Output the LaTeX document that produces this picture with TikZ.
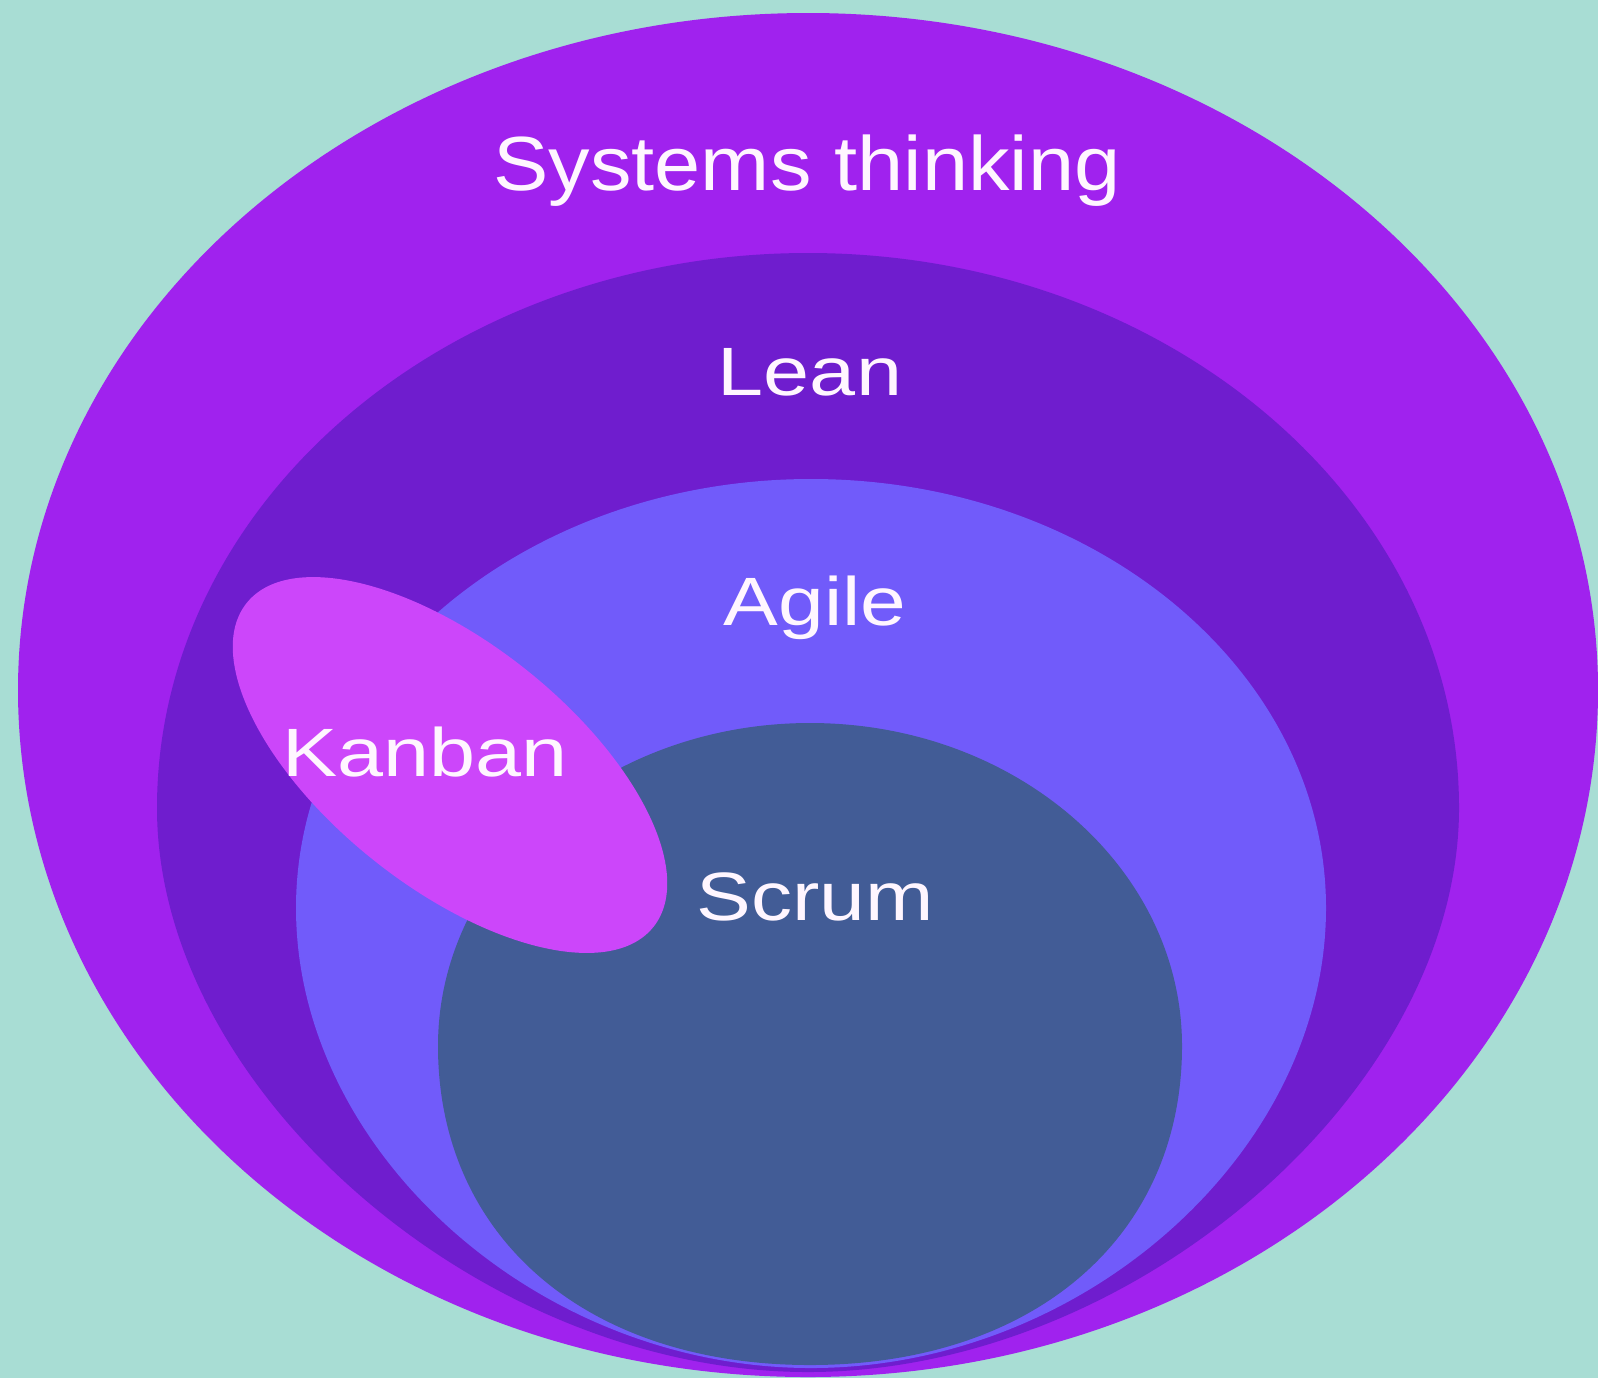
\documentclass[tikz,border=0pt]{standalone}
\usepackage{fontspec}
\setmainfont{Liberation Sans}
\definecolor{bgcol}{RGB}{168,221,212}
\definecolor{outercol}{RGB}{160,34,238}
\definecolor{leancol}{RGB}{111,29,206}
\definecolor{agilecol}{RGB}{113,91,250}
\definecolor{scrumcol}{RGB}{66,92,150}
\definecolor{kanbancol}{RGB}{204,70,250}
\definecolor{txtcol}{RGB}{255,246,255}
% #1 cx, #2 top y, #3 mid y, #4 bottom y, #5 half width, #6 k top, #7 k bottom, #8 style
\newcommand{\eggfill}[8]{%
  \pgfmathsetmacro\eggL{#1-#5}%
  \pgfmathsetmacro\eggR{#1+#5}%
  \pgfmathsetmacro\eggTa{#1-#6*#5}%
  \pgfmathsetmacro\eggTb{#1+#6*#5}%
  \pgfmathsetmacro\eggBa{#1-#7*#5}%
  \pgfmathsetmacro\eggBb{#1+#7*#5}%
  \pgfmathsetmacro\eggMu{#3-#6*(#3-#2)}%
  \pgfmathsetmacro\eggMd{#3+#7*(#4-#3)}%
  \fill[#8] (#1,#2) .. controls (\eggTa,#2) and (\eggL,\eggMu) .. (\eggL,#3)
    .. controls (\eggL,\eggMd) and (\eggBa,#4) .. (#1,#4)
    .. controls (\eggBb,#4) and (\eggR,\eggMd) .. (\eggR,#3)
    .. controls (\eggR,\eggMu) and (\eggTb,#2) .. (#1,#2) -- cycle;
}
\tikzset{
  lbl/.style={text=txtcol, inner sep=0pt, anchor=base},
  bigfont/.style={font=\fontsize{38.4}{44}\selectfont},
  midfont/.style={font=\fontsize{34.2}{40}\selectfont}
}
\begin{document}
\begin{tikzpicture}[x=0.5pt,y=-0.5pt]
\useasboundingbox (0,0) rectangle (1598,1378);
\fill[bgcol] (0,0) rectangle (1598,1378);
% nested egg shapes
\eggfill{808}{13}{690}{1377}{790}{0.5523}{0.5523}{outercol}
\eggfill{808}{253}{808}{1372}{651}{0.5523}{0.50}{leancol}
\eggfill{811}{479}{908}{1368}{515}{0.5523}{0.53}{agilecol}
\eggfill{810}{723}{1046}{1365}{372}{0.5523}{0.60}{scrumcol}
% Kanban ellipse
\fill[kanbancol, rotate around={-38.5:(450,765)}] (450,765) ellipse [x radius=260, y radius=122];
% labels
\node[lbl, bigfont] (sys) at (807,190) {\scalebox{1.08}[1]{Systems thinking}};
\node[lbl, midfont] (lean) at (810,395) {\scalebox{1.21}[1]{Lean}};
\node[lbl, midfont] (agile) at (815,625) {\scalebox{1.20}[1]{Agile}};
\node[lbl, midfont] (kanban) at (425,776) {\scalebox{1.21}[1]{Kanban}};
\node[lbl, midfont] (scrum) at (815,920) {\scalebox{1.20}[1]{Scrum}};
\end{tikzpicture}
\end{document}
